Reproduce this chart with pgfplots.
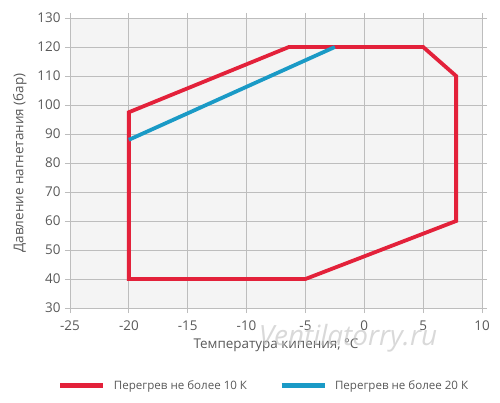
\documentclass[border=0pt]{standalone}
\usepackage{pgfplots}
\pgfplotsset{compat=1.18}
\usepackage{fontspec}
\setmainfont{Open Sans}
\definecolor{redline}{HTML}{E3213A}
\definecolor{blueline}{HTML}{1A9AC6}
\definecolor{txt}{HTML}{595959}
\definecolor{bg}{HTML}{F4F4F4}
\definecolor{gridc}{HTML}{BDBDBD}
\begin{document}
\begin{tikzpicture}[x=1bp,y=1bp]
\path[use as bounding box] (-70,-94) rectangle (430,308);
\begin{axis}[
    name=main,
    at={(0,0)}, anchor=south west,
    scale only axis,
    width=412bp, height=290bp,
    xmin=-25, xmax=10, ymin=30, ymax=130,
    xtick distance=5, ytick distance=10,
    grid=major,
    grid style={gridc, line width=0.9pt},
    axis line style={gridc, line width=0.9pt},
    axis background/.style={fill=bg},
    tick style={gridc, line width=0.9pt},
    tick align=outside,
    major tick length=5bp,
    ticklabel style={font=\fontsize{13.5}{15}\selectfont, text=txt},
    xticklabel style={yshift=-4bp},
    yticklabel style={xshift=-1bp},
    /pgf/number format/assume math mode=true,
    xlabel={Температура кипения, °C},
    ylabel={Давление нагнетания (бар)},
    label style={font=\fontsize{13.5}{16}\selectfont, text=txt},
    xlabel style={yshift=-2bp},
    ylabel style={yshift=4bp},
    legend columns=2,
    legend style={at={(0.471,-0.235)}, anchor=north, draw=none, fill=none,
        font=\fontsize{11.6}{13}\selectfont, text=txt,
        /tikz/every odd column/.append style={column sep=6bp},
        /tikz/every even column/.append style={column sep=30bp}},
    legend image code/.code={\draw[#1, line width=5bp] (0bp,0bp) -- (43bp,0bp);},
]
\addplot[redline, line width=3.8bp, line join=miter] coordinates {
    (-20,40) (-20,97.5) (-6.4,120) (5,120) (7.8,110) (7.8,60) (-5,40) (-20,40)
} -- cycle;
\addlegendentry{Перегрев не более 10 К}
\addplot[blueline, line width=3.8bp] coordinates {
    (-20,88) (-2.5,120)
};
\addlegendentry{Перегрев не более 20 К}
\end{axis}
\node[font=\itshape\fontsize{28}{30}\selectfont, text=black!25, opacity=0.6]
    at (278,-30) {Ventilatorry.ru};
\end{tikzpicture}
\end{document}
